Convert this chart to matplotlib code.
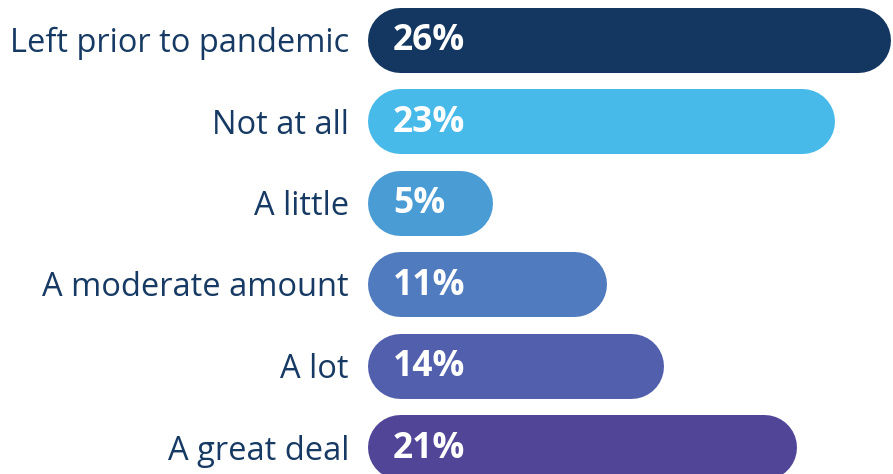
import matplotlib.pyplot as plt

categories = ["Left prior to pandemic", "Not at all", "A little",
              "A moderate amount", "A lot", "A great deal"]
values = [26, 23, 5, 11, 14, 21]
colors = ["#133761", "#47BAEA", "#4A9CD5", "#507BBF", "#525FAD", "#514597"]
label_color = "#163A63"

plt.rcParams['font.family'] = ['Open Sans', 'DejaVu Sans']

W, H, DPI = 893, 474, 100
bar_left_px = 367
px_per_pct = 19.0          # bar length grows ~19 px per percent
extra_px = 30              # rounded caps add a constant length
bar_h_px = 65
row_px = 81.5
first_row_px = 39.5

fig = plt.figure(figsize=(W / DPI, H / DPI), dpi=DPI)
ax = fig.add_axes([bar_left_px / W, 0, (W - bar_left_px) / W, 1])
ax.set_xlim(0, (W - bar_left_px) / px_per_pct)
ax.set_ylim((H - first_row_px) / row_px, -first_row_px / row_px)

r = bar_h_px / 2
lw_pt = bar_h_px * 72 / DPI
for i, (v, c) in enumerate(zip(values, colors)):
    x1 = r / px_per_pct
    x2 = v + (extra_px - r) / px_per_pct
    ax.plot([x1, x2], [i, i], color=c, linewidth=lw_pt,
            solid_capstyle='round', zorder=2)
    ax.text(26 / px_per_pct, i + 0.02, f"{v}%", color="white",
            fontsize=25.5, fontweight='bold', va='center', ha='left', zorder=3)

ax.set_yticks(range(len(categories)))
ax.set_yticklabels(categories, fontsize=23.5, color=label_color)
ax.tick_params(axis='y', length=0, pad=13)
ax.set_xticks([])
for s in ax.spines.values():
    s.set_visible(False)

fig.savefig("out.png", dpi=DPI)
